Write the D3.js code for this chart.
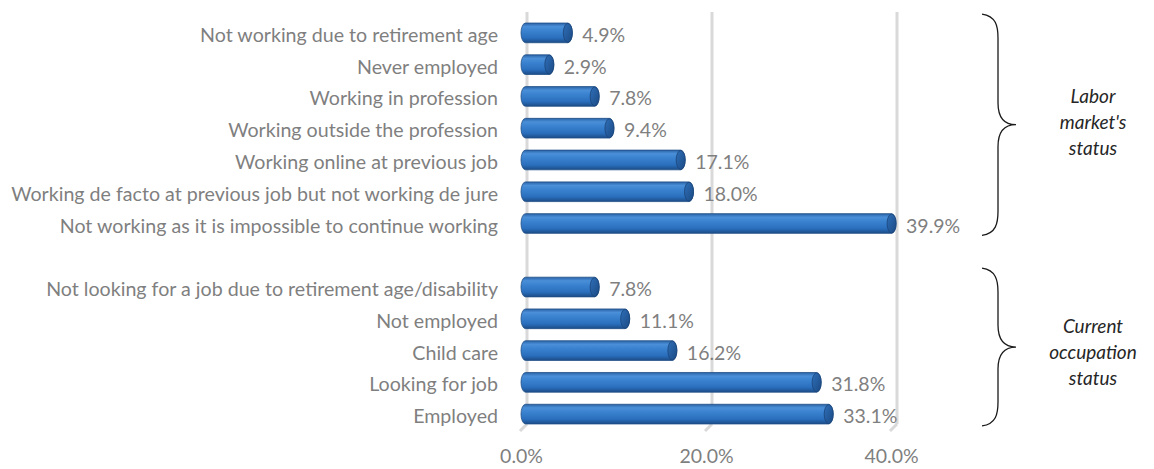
<!DOCTYPE html>
<html>
<head>
<meta charset="utf-8">
<script src="https://cdn.jsdelivr.net/npm/d3@7/dist/d3.min.js"></script>
<style>
  html, body { margin: 0; padding: 0; background: #fff; }
  svg { display: block; }
</style>
</head>
<body>
<svg id="chart" width="1154" height="469"></svg>
<script>
// Categories top to bottom; the empty entry separates the two groups.
const categories = [
  "Not working due to retirement age",
  "Never employed",
  "Working in profession",
  "Working outside the profession",
  "Working online at previous job",
  "Working de facto at previous job but not working de jure",
  "Not working as it is impossible to continue working",
  "",
  "Not looking for a job due to retirement age/disability",
  "Not employed",
  "Child care",
  "Looking for job",
  "Employed"
];
const values = [4.9, 2.9, 7.8, 9.4, 17.1, 18.0, 39.9, null, 7.8, 11.1, 16.2, 31.8, 33.1];
const tickValues = [0, 20, 40];
const groups = [
  { lines: ["Labor", "market's", "status"], first: 0, last: 6 },
  { lines: ["Current", "occupation", "status"], first: 8, last: 12 }
];

const svg = d3.select("#chart");
const labelFont = "Lato, 'Open Sans', 'DejaVu Sans', sans-serif";
const grey = "#7f7f7f";

const x = d3.scaleLinear().domain([0, 40]).range([527, 897]);
const y = d3.scaleBand().domain(d3.range(categories.length)).range([17, 430]).paddingInner(0.38).paddingOuter(0.19);
const barH = y.bandwidth();

// gradient for the cylinder body
const defs = svg.append("defs");
const grad = defs.append("linearGradient").attr("id", "cyl").attr("x1", 0).attr("y1", 0).attr("x2", 0).attr("y2", 1);
[[0, "#2a62a6"], [0.18, "#4a8fd8"], [0.4, "#3a82cf"], [0.75, "#2a6fbd"], [1, "#1c4c87"]]
  .forEach(([o, c]) => grad.append("stop").attr("offset", o).attr("stop-color", c));
const capGrad = defs.append("linearGradient").attr("id", "cap").attr("x1", 0).attr("y1", 0).attr("x2", 1).attr("y2", 1);
[[0, "#2f6fb8"], [1, "#1b4a84"]].forEach(([o, c]) => capGrad.append("stop").attr("offset", o).attr("stop-color", c));

// gridlines with a short slanted floor segment at the bottom
const grid = svg.append("g");
tickValues.forEach(t => {
  grid.append("line").attr("x1", x(t)).attr("x2", x(t)).attr("y1", 12).attr("y2", 424)
    .attr("stroke", "#d9d9d9").attr("stroke-width", 3);
  grid.append("line").attr("x1", x(t)).attr("x2", x(t) - 7).attr("y1", 424).attr("y2", 431)
    .attr("stroke", "#d9d9d9").attr("stroke-width", 3);
});

// x axis tick labels
const xAxis = d3.axisBottom(x).tickValues(tickValues).tickFormat(d => d.toFixed(1) + "%").tickSize(0);
const ax = svg.append("g").attr("transform", "translate(-6,460)").call(xAxis);
ax.select(".domain").remove();
ax.selectAll("text").attr("font-family", labelFont).attr("font-size", 19.5).attr("fill", grey).attr("dy", 0);

// bars
const rows = values.map((v, i) => ({ v, i })).filter(d => d.v !== null);
const bars = svg.append("g");
const rx = 4.5;
rows.forEach(d => {
  const top = y(d.i);
  const x0 = x(0) - 6, x1 = x(d.v);
  bars.append("rect").attr("x", x0).attr("y", top).attr("width", x1 - x0).attr("height", barH)
    .attr("rx", rx).attr("ry", barH / 2)
    .attr("fill", "url(#cyl)").attr("stroke", "#1f4f86").attr("stroke-width", 0.8);
  bars.append("ellipse").attr("cx", x1 - rx).attr("cy", top + barH / 2).attr("rx", rx).attr("ry", barH / 2 - 0.4)
    .attr("fill", "url(#cap)").attr("stroke", "#1a4478").attr("stroke-width", 0.8);
});

// value labels
svg.append("g").selectAll("text").data(rows).join("text")
  .attr("x", d => x(d.v) + 10).attr("y", d => y(d.i) + barH / 2 + 2).attr("dy", "0.36em")
  .attr("font-family", labelFont).attr("font-size", 19.5).attr("fill", grey)
  .text(d => d.v.toFixed(1) + "%");

// category labels, scaled so the longest one spans its column
const cat = svg.append("g").selectAll("text").data(categories.map((c, i) => ({ c, i })).filter(d => d.c)).join("text")
  .attr("x", 498).attr("y", d => y(d.i) + barH / 2 + 2).attr("dy", "0.36em").attr("text-anchor", "end")
  .attr("font-family", labelFont).attr("font-size", 18).attr("fill", grey)
  .text(d => d.c);
let maxW = 0;
cat.each(function () { maxW = Math.max(maxW, this.getComputedTextLength()); });
const fs = 18 * 487 / maxW;
cat.attr("font-size", fs);

// group braces and their titles
const braces = svg.append("g");
const titleShift = [-3, 5];
groups.forEach((g, gi) => {
  const t = y(g.first) - 9, b = y(g.last) + barH + 2, m = (t + b) / 2;
  const xl = 982, xv = 998, xt = 1016;
  const p = d3.path();
  p.moveTo(xl, t);
  p.bezierCurveTo(xv - 2, t + 2, xv, t + 12, xv, t + 24);
  p.lineTo(xv, m - 22);
  p.bezierCurveTo(xv, m - 8, xv + 6, m, xt, m);
  p.bezierCurveTo(xv + 6, m, xv, m + 8, xv, m + 22);
  p.lineTo(xv, b - 24);
  p.bezierCurveTo(xv, b - 12, xv - 2, b - 2, xl, b);
  braces.append("path").attr("d", p.toString()).attr("fill", "none").attr("stroke", "#1a1a1a").attr("stroke-width", 1.3);
  const lh = 26;
  braces.append("g").selectAll("text").data(g.lines).join("text")
    .attr("x", 1093).attr("y", (d, k) => m + titleShift[gi] + (k - 1) * lh).attr("dy", "0.36em")
    .attr("text-anchor", "middle").attr("font-family", labelFont).attr("font-style", "italic")
    .attr("font-size", 19).attr("fill", "#262626").text(d => d);
});
</script>
</body>
</html>
